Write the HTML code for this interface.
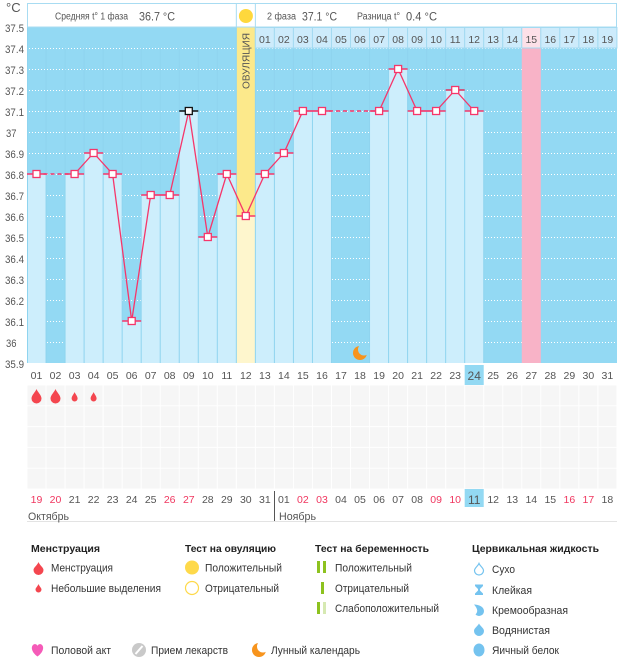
<!DOCTYPE html>
<html><head><meta charset="utf-8">
<style>
html,body{margin:0;padding:0;background:#fff;}
svg{display:block;font-family:"Liberation Sans","DejaVu Sans",sans-serif;}
</style></head><body>
<svg width="626" height="657" viewBox="0 0 626 657" xmlns="http://www.w3.org/2000/svg">
<defs>
<pattern id="cells" x="27" y="385" width="19.03" height="20.8" patternUnits="userSpaceOnUse">
<rect x="0.5" y="0.5" width="18" height="19.8" fill="#f6f6f6"/>
</pattern>
</defs>
<rect width="626" height="657" fill="#fff"/>

<!-- chart background -->
<rect x="27" y="27" width="590" height="336" fill="#93d9f3"/>

<!-- dotted grid -->
<g stroke="#fff" stroke-width="1" stroke-dasharray="1 2">
<line x1="29" x2="616" y1="48.5" y2="48.5"/>
<line x1="29" x2="616" y1="69.5" y2="69.5"/>
<line x1="29" x2="616" y1="90.5" y2="90.5"/>
<line x1="29" x2="616" y1="111.5" y2="111.5"/>
<line x1="29" x2="616" y1="132.5" y2="132.5"/>
<line x1="29" x2="616" y1="153.5" y2="153.5"/>
<line x1="29" x2="616" y1="174.5" y2="174.5"/>
<line x1="29" x2="616" y1="195.5" y2="195.5"/>
<line x1="29" x2="616" y1="216.5" y2="216.5"/>
<line x1="29" x2="616" y1="237.5" y2="237.5"/>
<line x1="29" x2="616" y1="258.5" y2="258.5"/>
<line x1="29" x2="616" y1="279.5" y2="279.5"/>
<line x1="29" x2="616" y1="300.5" y2="300.5"/>
<line x1="29" x2="616" y1="321.5" y2="321.5"/>
<line x1="29" x2="616" y1="342.5" y2="342.5"/>
</g>

<!-- bars -->
<g fill="#cdeefc">
<rect x="27" y="174" width="19.03" height="189"/>
<rect x="65.06" y="174" width="19.03" height="189"/>
<rect x="84.09" y="153" width="19.03" height="210"/>
<rect x="103.12" y="174" width="19.03" height="189"/>
<rect x="122.15" y="321" width="19.03" height="42"/>
<rect x="141.18" y="195" width="19.03" height="168"/>
<rect x="160.21" y="195" width="19.03" height="168"/>
<rect x="179.24" y="111" width="19.03" height="252"/>
<rect x="198.27" y="237" width="19.03" height="126"/>
<rect x="217.30" y="174" width="19.03" height="189"/>
<rect x="255.36" y="174" width="19.03" height="189"/>
<rect x="274.39" y="153" width="19.03" height="210"/>
<rect x="293.42" y="111" width="19.03" height="252"/>
<rect x="312.45" y="111" width="19.03" height="252"/>
<rect x="369.54" y="111" width="19.03" height="252"/>
<rect x="388.57" y="69" width="19.03" height="294"/>
<rect x="407.60" y="111" width="19.03" height="252"/>
<rect x="426.63" y="111" width="19.03" height="252"/>
<rect x="445.66" y="90" width="19.03" height="273"/>
<rect x="464.69" y="111" width="19.03" height="252"/>
</g>

<!-- ovulation column -->
<rect x="236.33" y="27" width="19.03" height="189" fill="#fce98b"/>
<rect x="236.33" y="216" width="19.03" height="147" fill="#fef6cd"/>
<!-- pink column -->
<rect x="521.78" y="48" width="19.03" height="315" fill="#f8b3c7"/>

<!-- column separators -->
<g stroke="#8fd4ef" stroke-width="1">
<line x1="27.5" x2="27.5" y1="27" y2="363"/>
<line x1="46.03" x2="46.03" y1="48" y2="363"/>
<line x1="65.06" x2="65.06" y1="48" y2="363"/>
<line x1="84.09" x2="84.09" y1="48" y2="363"/>
<line x1="103.12" x2="103.12" y1="48" y2="363"/>
<line x1="122.15" x2="122.15" y1="48" y2="363"/>
<line x1="141.18" x2="141.18" y1="48" y2="363"/>
<line x1="160.21" x2="160.21" y1="48" y2="363"/>
<line x1="179.24" x2="179.24" y1="48" y2="363"/>
<line x1="198.27" x2="198.27" y1="48" y2="363"/>
<line x1="217.30" x2="217.30" y1="48" y2="363"/>
<line x1="236.33" x2="236.33" y1="27" y2="363"/>
<line x1="255.36" x2="255.36" y1="27" y2="363"/>
<line x1="274.39" x2="274.39" y1="48" y2="363"/>
<line x1="293.42" x2="293.42" y1="48" y2="363"/>
<line x1="312.45" x2="312.45" y1="48" y2="363"/>
<line x1="331.48" x2="331.48" y1="48" y2="363"/>
<line x1="369.54" x2="369.54" y1="48" y2="363"/>
<line x1="388.57" x2="388.57" y1="48" y2="363"/>
<line x1="407.60" x2="407.60" y1="48" y2="363"/>
<line x1="426.63" x2="426.63" y1="48" y2="363"/>
<line x1="445.66" x2="445.66" y1="48" y2="363"/>
<line x1="464.69" x2="464.69" y1="48" y2="363"/>
<line x1="483.72" x2="483.72" y1="48" y2="363"/>
</g>

<!-- header box -->
<rect x="27.5" y="3.5" width="589" height="23.5" fill="#fff" stroke="#a8dcf2"/>
<line x1="236.33" x2="236.33" y1="3.5" y2="27" stroke="#a8dcf2"/>
<line x1="255.36" x2="255.36" y1="3.5" y2="27" stroke="#a8dcf2"/>
<circle cx="245.9" cy="16" r="7" fill="#fed83c"/>
<g fill="#555">
<text x="55" y="19.5" font-size="10" textLength="73" lengthAdjust="spacingAndGlyphs">Средняя t° 1 фаза</text>
<text x="139" y="20.5" font-size="12" textLength="36" lengthAdjust="spacingAndGlyphs">36.7 °C</text>
<text x="267" y="19.5" font-size="10" textLength="29" lengthAdjust="spacingAndGlyphs">2 фаза</text>
<text x="302" y="20.5" font-size="12" textLength="35" lengthAdjust="spacingAndGlyphs">37.1 °C</text>
<text x="357" y="19.5" font-size="10" textLength="43" lengthAdjust="spacingAndGlyphs">Разница t°</text>
<text x="406" y="20.5" font-size="12" textLength="31" lengthAdjust="spacingAndGlyphs">0.4 °C</text>
</g>

<!-- header day row (phase 2) -->
<g stroke="#a3daf1" stroke-width="1" fill="#cdebfb">
<rect x="255.36" y="27.5" width="19.03" height="20.5"/>
<rect x="274.39" y="27.5" width="19.03" height="20.5"/>
<rect x="293.42" y="27.5" width="19.03" height="20.5"/>
<rect x="312.45" y="27.5" width="19.03" height="20.5"/>
<rect x="331.48" y="27.5" width="19.03" height="20.5"/>
<rect x="350.51" y="27.5" width="19.03" height="20.5"/>
<rect x="369.54" y="27.5" width="19.03" height="20.5"/>
<rect x="388.57" y="27.5" width="19.03" height="20.5"/>
<rect x="407.60" y="27.5" width="19.03" height="20.5"/>
<rect x="426.63" y="27.5" width="19.03" height="20.5"/>
<rect x="445.66" y="27.5" width="19.03" height="20.5"/>
<rect x="464.69" y="27.5" width="19.03" height="20.5"/>
<rect x="483.72" y="27.5" width="19.03" height="20.5"/>
<rect x="502.75" y="27.5" width="19.03" height="20.5"/>
<rect x="521.78" y="27.5" width="19.03" height="20.5" fill="#fde0e8"/>
<rect x="540.81" y="27.5" width="19.03" height="20.5"/>
<rect x="559.84" y="27.5" width="19.03" height="20.5"/>
<rect x="578.87" y="27.5" width="19.03" height="20.5"/>
<rect x="597.90" y="27.5" width="19.03" height="20.5"/>
</g>
<g fill="#555" font-size="10.5" text-anchor="middle">
<text x="264.9" y="43">01</text><text x="283.9" y="43">02</text><text x="302.9" y="43">03</text>
<text x="322.0" y="43">04</text><text x="341.0" y="43">05</text><text x="360.0" y="43">06</text>
<text x="379.1" y="43">07</text><text x="398.1" y="43">08</text><text x="417.1" y="43">09</text>
<text x="436.1" y="43">10</text><text x="455.2" y="43">11</text><text x="474.2" y="43">12</text>
<text x="493.2" y="43">13</text><text x="512.3" y="43">14</text><text x="531.3" y="43">15</text>
<text x="550.3" y="43">16</text><text x="569.4" y="43">17</text><text x="588.4" y="43">18</text>
<text x="607.4" y="43">19</text>
</g>

<!-- ovulation label -->
<text transform="translate(249.5,61) rotate(-90)" text-anchor="middle" font-size="10" fill="#555" textLength="56" lengthAdjust="spacingAndGlyphs">ОВУЛЯЦИЯ</text>

<!-- moon in chart -->
<circle cx="360" cy="353" r="7" fill="#f7941d"/>
<circle cx="364" cy="349.5" r="6" fill="#93d9f3"/>

<!-- temperature line -->
<g fill="none" stroke="#f6366a" stroke-width="1.3">
<polyline points="74.6,174 93.6,153 112.6,174 131.7,321 150.7,195 169.7,195 188.8,111 207.8,237 226.8,174 245.8,216 264.9,174 283.9,153 302.9,111 322.0,111"/>
<polyline points="379.1,111 398.1,69 417.1,111 436.1,111 455.2,90 474.2,111"/>
<line x1="36.5" y1="174" x2="74.6" y2="174" stroke-dasharray="4 3" stroke-width="1.6"/>
<line x1="322" y1="111" x2="379.1" y2="111" stroke-dasharray="4 3" stroke-width="1.6"/>
</g>
<!-- ticks -->
<g stroke="#f6366a" stroke-width="1.6">
<line x1="27" x2="46" y1="174" y2="174"/>
<line x1="65.06" x2="84.09" y1="174" y2="174"/>
<line x1="84.09" x2="103.12" y1="153" y2="153"/>
<line x1="103.12" x2="122.15" y1="174" y2="174"/>
<line x1="122.15" x2="141.18" y1="321" y2="321"/>
<line x1="141.18" x2="160.21" y1="195" y2="195"/>
<line x1="160.21" x2="179.24" y1="195" y2="195"/>
<line x1="198.27" x2="217.30" y1="237" y2="237"/>
<line x1="217.30" x2="236.33" y1="174" y2="174"/>
<line x1="236.33" x2="255.36" y1="216" y2="216"/>
<line x1="255.36" x2="274.39" y1="174" y2="174"/>
<line x1="274.39" x2="293.42" y1="153" y2="153"/>
<line x1="293.42" x2="312.45" y1="111" y2="111"/>
<line x1="312.45" x2="331.48" y1="111" y2="111"/>
<line x1="369.54" x2="388.57" y1="111" y2="111"/>
<line x1="388.57" x2="407.60" y1="69" y2="69"/>
<line x1="407.60" x2="426.63" y1="111" y2="111"/>
<line x1="426.63" x2="445.66" y1="111" y2="111"/>
<line x1="445.66" x2="464.69" y1="90" y2="90" stroke="#e0305c"/>
<line x1="464.69" x2="483.72" y1="111" y2="111"/>
</g>
<line x1="179.24" x2="198.27" y1="111" y2="111" stroke="#111" stroke-width="1.6"/>
<!-- markers -->
<g fill="#fff" stroke="#f6366a" stroke-width="1.3">
<rect x="33" y="170.5" width="7" height="7"/>
<rect x="71.1" y="170.5" width="7" height="7"/>
<rect x="90.1" y="149.5" width="7" height="7"/>
<rect x="109.1" y="170.5" width="7" height="7"/>
<rect x="128.2" y="317.5" width="7" height="7"/>
<rect x="147.2" y="191.5" width="7" height="7"/>
<rect x="166.2" y="191.5" width="7" height="7"/>
<rect x="185.3" y="107.5" width="7" height="7" stroke="#111"/>
<rect x="204.3" y="233.5" width="7" height="7"/>
<rect x="223.3" y="170.5" width="7" height="7"/>
<rect x="242.3" y="212.5" width="7" height="7"/>
<rect x="261.4" y="170.5" width="7" height="7"/>
<rect x="280.4" y="149.5" width="7" height="7"/>
<rect x="299.4" y="107.5" width="7" height="7"/>
<rect x="318.5" y="107.5" width="7" height="7"/>
<rect x="375.6" y="107.5" width="7" height="7"/>
<rect x="394.6" y="65.5" width="7" height="7"/>
<rect x="413.6" y="107.5" width="7" height="7"/>
<rect x="432.6" y="107.5" width="7" height="7"/>
<rect x="451.7" y="86.5" width="7" height="7"/>
<rect x="470.7" y="107.5" width="7" height="7"/>
</g>

<!-- y axis labels -->
<g fill="#555" font-size="11">
<text x="6" y="12" font-size="13">°C</text>
<text x="5" y="32" textLength="19" lengthAdjust="spacingAndGlyphs">37.5</text>
<text x="5" y="53" textLength="19" lengthAdjust="spacingAndGlyphs">37.4</text>
<text x="5" y="74" textLength="19" lengthAdjust="spacingAndGlyphs">37.3</text>
<text x="5" y="95" textLength="19" lengthAdjust="spacingAndGlyphs">37.2</text>
<text x="5" y="116" textLength="19" lengthAdjust="spacingAndGlyphs">37.1</text>
<text x="6" y="137" textLength="10.5" lengthAdjust="spacingAndGlyphs">37</text>
<text x="5" y="158" textLength="19" lengthAdjust="spacingAndGlyphs">36.9</text>
<text x="5" y="179" textLength="19" lengthAdjust="spacingAndGlyphs">36.8</text>
<text x="5" y="200" textLength="19" lengthAdjust="spacingAndGlyphs">36.7</text>
<text x="5" y="221" textLength="19" lengthAdjust="spacingAndGlyphs">36.6</text>
<text x="5" y="242" textLength="19" lengthAdjust="spacingAndGlyphs">36.5</text>
<text x="5" y="263" textLength="19" lengthAdjust="spacingAndGlyphs">36.4</text>
<text x="5" y="284" textLength="19" lengthAdjust="spacingAndGlyphs">36.3</text>
<text x="5" y="305" textLength="19" lengthAdjust="spacingAndGlyphs">36.2</text>
<text x="5" y="326" textLength="19" lengthAdjust="spacingAndGlyphs">36.1</text>
<text x="6" y="347" textLength="10.5" lengthAdjust="spacingAndGlyphs">36</text>
<text x="5" y="368" textLength="19" lengthAdjust="spacingAndGlyphs">35.9</text>
</g>

<!-- bottom row 1 -->
<rect x="464.69" y="365" width="19.03" height="20" fill="#93d9f3"/>
<g fill="#555" font-size="10.5" text-anchor="middle">
<text x="36.5" y="379">01</text><text x="55.5" y="379">02</text><text x="74.6" y="379">03</text>
<text x="93.6" y="379">04</text><text x="112.6" y="379">05</text><text x="131.7" y="379">06</text>
<text x="150.7" y="379">07</text><text x="169.7" y="379">08</text><text x="188.8" y="379">09</text>
<text x="207.8" y="379">10</text><text x="226.8" y="379">11</text><text x="245.8" y="379">12</text>
<text x="264.9" y="379">13</text><text x="283.9" y="379">14</text><text x="302.9" y="379">15</text>
<text x="322.0" y="379">16</text><text x="341.0" y="379">17</text><text x="360.0" y="379">18</text>
<text x="379.1" y="379">19</text><text x="398.1" y="379">20</text><text x="417.1" y="379">21</text>
<text x="436.1" y="379">22</text><text x="455.2" y="379">23</text><text x="474.2" y="380" font-size="12">24</text>
<text x="493.2" y="379">25</text><text x="512.3" y="379">26</text><text x="531.3" y="379">27</text>
<text x="550.3" y="379">28</text><text x="569.4" y="379">29</text><text x="588.4" y="379">30</text>
<text x="607.4" y="379">31</text>
</g>

<!-- symptom grid -->
<rect x="27" y="385" width="590" height="104" fill="url(#cells)"/>
<g fill="#f4464f">
<path d="M36.5,389 C37.5,392 41.5,395 41.5,398.5 A5,5 0 0 1 31.5,398.5 C31.5,395 35.5,392 36.5,389 Z"/>
<path d="M55.5,389 C56.5,392 60.5,395 60.5,398.5 A5,5 0 0 1 50.5,398.5 C50.5,395 54.5,392 55.5,389 Z"/>
<path d="M74.6,392 C75.2,394 77.6,396 77.6,398.5 A3,3 0 0 1 71.6,398.5 C71.6,396 74,394 74.6,392 Z"/>
<path d="M93.6,392 C94.2,394 96.6,396 96.6,398.5 A3,3 0 0 1 90.6,398.5 C90.6,396 93,394 93.6,392 Z"/>
</g>

<!-- bottom row 2 -->
<rect x="464.69" y="489" width="19.03" height="18" fill="#93d9f3"/>
<g fill="#555" font-size="10.5" text-anchor="middle">
<text x="36.5" y="503" fill="#f0365f">19</text><text x="55.5" y="503" fill="#f0365f">20</text><text x="74.6" y="503">21</text>
<text x="93.6" y="503">22</text><text x="112.6" y="503">23</text><text x="131.7" y="503">24</text>
<text x="150.7" y="503">25</text><text x="169.7" y="503" fill="#f0365f">26</text><text x="188.8" y="503" fill="#f0365f">27</text>
<text x="207.8" y="503">28</text><text x="226.8" y="503">29</text><text x="245.8" y="503">30</text>
<text x="264.9" y="503">31</text><text x="283.9" y="503">01</text><text x="302.9" y="503" fill="#f0365f">02</text>
<text x="322.0" y="503" fill="#f0365f">03</text><text x="341.0" y="503">04</text><text x="360.0" y="503">05</text>
<text x="379.1" y="503">06</text><text x="398.1" y="503">07</text><text x="417.1" y="503">08</text>
<text x="436.1" y="503" fill="#f0365f">09</text><text x="455.2" y="503" fill="#f0365f">10</text><text x="474.2" y="504" font-size="12">11</text>
<text x="493.2" y="503">12</text><text x="512.3" y="503">13</text><text x="531.3" y="503">14</text>
<text x="550.3" y="503">15</text><text x="569.4" y="503" fill="#f0365f">16</text><text x="588.4" y="503" fill="#f0365f">17</text>
<text x="607.4" y="503">18</text>
</g>
<line x1="274.5" x2="274.5" y1="491" y2="521" stroke="#555"/>
<line x1="27" x2="617" y1="521.5" y2="521.5" stroke="#e3e3e3"/>
<text x="28" y="520" font-size="11" fill="#555" textLength="41" lengthAdjust="spacingAndGlyphs">Октябрь</text>
<text x="279" y="520" font-size="11" fill="#555" textLength="37" lengthAdjust="spacingAndGlyphs">Ноябрь</text>

<!-- legend headings -->
<g fill="#222" font-size="10.5" font-weight="bold">
<text x="31" y="552" textLength="69" lengthAdjust="spacingAndGlyphs">Менструация</text>
<text x="185" y="552" textLength="91" lengthAdjust="spacingAndGlyphs">Тест на овуляцию</text>
<text x="315" y="552" textLength="114" lengthAdjust="spacingAndGlyphs">Тест на беременность</text>
<text x="472" y="552" textLength="127" lengthAdjust="spacingAndGlyphs">Цервикальная жидкость</text>
</g>

<!-- legend items -->
<g fill="#333" font-size="11">
<text x="51" y="571.5" textLength="62" lengthAdjust="spacingAndGlyphs">Менструация</text>
<text x="51" y="592" textLength="110" lengthAdjust="spacingAndGlyphs">Небольшие выделения</text>
<text x="205" y="571.5" textLength="77" lengthAdjust="spacingAndGlyphs">Положительный</text>
<text x="205" y="592" textLength="74" lengthAdjust="spacingAndGlyphs">Отрицательный</text>
<text x="335" y="571.5" textLength="77" lengthAdjust="spacingAndGlyphs">Положительный</text>
<text x="335" y="592" textLength="74" lengthAdjust="spacingAndGlyphs">Отрицательный</text>
<text x="335" y="612" textLength="104" lengthAdjust="spacingAndGlyphs">Слабоположительный</text>
<text x="492" y="573" textLength="23" lengthAdjust="spacingAndGlyphs">Сухо</text>
<text x="492" y="594" textLength="40" lengthAdjust="spacingAndGlyphs">Клейкая</text>
<text x="492" y="614" textLength="76" lengthAdjust="spacingAndGlyphs">Кремообразная</text>
<text x="492" y="634" textLength="58" lengthAdjust="spacingAndGlyphs">Водянистая</text>
<text x="492" y="654" textLength="67" lengthAdjust="spacingAndGlyphs">Яичный белок</text>
<text x="51" y="654" textLength="60" lengthAdjust="spacingAndGlyphs">Половой акт</text>
<text x="151" y="654" textLength="77" lengthAdjust="spacingAndGlyphs">Прием лекарств</text>
<text x="271" y="654" textLength="89" lengthAdjust="spacingAndGlyphs">Лунный календарь</text>
</g>

<!-- legend icons -->
<path d="M38.5,562 C39.5,565 43.5,567.5 43.5,570 A5,5 0 0 1 33.5,570 C33.5,567.5 37.5,565 38.5,562 Z" fill="#f4464f"/>
<path d="M38.5,584 C39.2,586 41.5,588 41.5,589.5 A3,3 0 0 1 35.5,589.5 C35.5,588 37.8,586 38.5,584 Z" fill="#f4464f"/>
<circle cx="192" cy="567.5" r="7" fill="#fed94a"/>
<circle cx="192" cy="588" r="6.5" fill="#fff" stroke="#fed94a" stroke-width="1.2"/>
<rect x="317" y="561" width="3" height="12" fill="#8dc21f"/>
<rect x="323" y="561" width="3" height="12" fill="#8dc21f"/>
<rect x="321" y="582" width="3" height="12" fill="#8dc21f"/>
<rect x="317" y="602" width="3" height="12" fill="#8dc21f"/>
<rect x="323" y="602" width="3" height="12" fill="#d6e9b2"/>
<path d="M479,563.5 C480,566 483.5,568 483.5,570.5 A4.5,4.5 0 0 1 474.5,570.5 C474.5,568 478,566 479,563.5 Z" fill="#fff" stroke="#74c3ef" stroke-width="1.2"/>
<path d="M475,584.5 h8 v1.5 l-3,3 v1.5 l3,3 v1.5 h-8 v-1.5 l3,-3 v-1.5 l-3,-3 z" fill="#74c3ef"/>
<path d="M474,604.5 C479,604.5 484,607 484,611 A5,5 0 0 1 475.5,614.5 C478,612 478,609 474,604.5 Z" fill="#74c3ef"/>
<path d="M479,623.5 C480,626 484,628 484,631 A5,5 0 0 1 474,631 C474,628 478,626 479,623.5 Z" fill="#74c3ef"/>
<ellipse cx="479" cy="650" rx="5.5" ry="6.5" fill="#74c3ef"/>
<path d="M37.5,656.5 C31,652 30.5,646 34,644.3 C35.7,643.6 37,644.6 37.5,645.8 C38,644.6 39.3,643.6 41,644.3 C44.5,646 44,652 37.5,656.5 Z" fill="#f55bb8"/>
<circle cx="139" cy="650" r="7" fill="#c9c9c9"/>
<line x1="135.5" y1="654" x2="142.5" y2="646" stroke="#fff" stroke-width="2"/>
<circle cx="259" cy="650" r="7" fill="#f7941d"/>
<circle cx="263" cy="646.5" r="6" fill="#fff"/>
</svg>
</body></html>
